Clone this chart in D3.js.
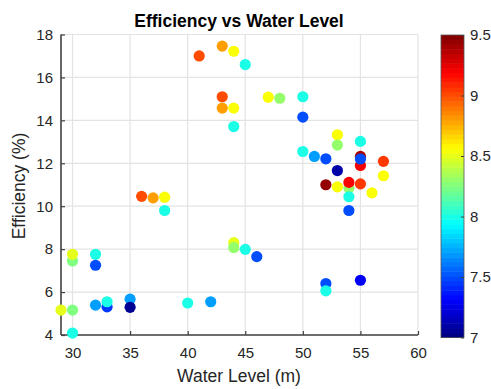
<!DOCTYPE html>
<html>
<head>
<meta charset="utf-8">
<script src="https://cdn.jsdelivr.net/npm/d3@7"></script>
<style>
  html, body { margin: 0; padding: 0; background: #fff; }
  svg { display: block; font-family: "Liberation Sans", Arial, sans-serif; }
</style>
</head>
<body>
<svg id="chart" width="491" height="389"></svg>
<script>
// Measurements: water level (m), efficiency (%), and the colour variable
const waterLevel = [29, 30, 30, 30, 30, 32, 32, 32, 33, 33, 35, 35,
  36, 37, 38, 38, 40, 42, 41, 43, 44, 45, 43, 43, 44, 44,
  44, 44, 45, 46, 47, 48, 50, 50, 50, 51, 52, 53, 53, 55,
  55, 55, 55, 57, 53, 52, 53, 54, 54, 55, 57, 56, 54, 54, 52, 52, 55];
const efficiency = [5.16, 7.45, 7.76, 5.16, 4.09, 7.76, 7.25, 5.39, 5.31, 5.55, 5.67, 5.29,
  10.46, 10.39, 10.42, 9.80, 5.49, 5.55, 17.0, 17.46, 17.22, 16.6, 15.1, 14.57, 14.57, 13.71,
  8.30, 8.07, 7.99, 7.65, 15.08, 15.03, 15.1, 14.15, 12.55, 12.32, 12.21, 13.33, 12.85, 13.02,
  11.90, 12.32, 12.20, 12.09, 11.66, 11.0, 10.9, 10.85, 11.11, 11.04, 11.42, 10.62, 10.44, 9.80, 6.40, 6.06, 6.55];
const colorValue = [8.5, 8.25, 8.5, 8.25, 8.0, 8.0, 7.5, 7.7, 7.45, 8.0, 7.7, 7.05,
  9.0, 8.8, 8.55, 8.0, 8.0, 7.7, 9.0, 8.8, 8.55, 8.0, 9.0, 8.8, 8.55, 8.0,
  8.5, 8.3, 8.0, 7.5, 8.55, 8.3, 8.0, 7.5, 8.0, 7.7, 7.5, 8.55, 8.3, 8.0,
  9.2, 9.4, 7.5, 9.05, 7.1, 9.45, 8.55, 8.3, 9.2, 9.05, 8.55, 8.55, 8.0, 7.5, 7.5, 8.0, 7.3];

const xTicks = [30, 35, 40, 45, 50, 55, 60];
const yTicks = [4, 6, 8, 10, 12, 14, 16, 18];
const cTicks = [7, 7.5, 8, 8.5, 9, 9.5];

const titleText = "Efficiency vs Water Level";
const xLabelText = "Water Level (m)";
const yLabelText = "Efficiency (%)";

// jet colormap
function jet(t) {
  const c = v => Math.max(0, Math.min(1, v));
  const r = c(1.5 - Math.abs(4 * t - 3));
  const g = c(1.5 - Math.abs(4 * t - 2));
  const b = c(1.5 - Math.abs(4 * t - 1));
  return d3.rgb(r * 255, g * 255, b * 255).formatHex();
}

const svg = d3.select("#chart");
const plot = { left: 61, right: 418, top: 34.5, bottom: 335 };

const x = d3.scaleLinear().domain([29, 60]).range([plot.left, plot.right]);
const y = d3.scaleLinear().domain([4, 18]).range([plot.bottom, plot.top]);
const cNorm = d3.scaleLinear().domain([7, 9.5]).range([0, 1]).clamp(true);
const color = v => jet(cNorm(v));

const textColor = "#262626";
const gridColor = "#e3e3e3";
const axisColor = "#404040";
const tickFont = "15px";
const labelFont = "17.5px";

// grid
const grid = svg.append("g");
grid.selectAll("line.gx").data(xTicks).join("line")
  .attr("x1", d => x(d)).attr("x2", d => x(d))
  .attr("y1", plot.top).attr("y2", plot.bottom)
  .attr("stroke", gridColor).attr("stroke-width", 1.2);
grid.selectAll("line.gy").data(yTicks).join("line")
  .attr("x1", plot.left).attr("x2", plot.right)
  .attr("y1", d => y(d)).attr("y2", d => y(d))
  .attr("stroke", gridColor).attr("stroke-width", 1.2);

// axes (ticks pointing inward)
const xAxis = d3.axisBottom(x).tickValues(xTicks).tickSize(-4).tickPadding(12).tickSizeOuter(0);
const yAxis = d3.axisLeft(y).tickValues(yTicks).tickSize(-4).tickPadding(8).tickSizeOuter(0);

const gx = svg.append("g").attr("transform", `translate(0,${plot.bottom})`).call(xAxis);
const gy = svg.append("g").attr("transform", `translate(${plot.left},0)`).call(yAxis);
[gx, gy].forEach(g => {
  g.select(".domain").attr("stroke", axisColor).attr("stroke-width", 1.6);
  g.selectAll(".tick line").attr("stroke", axisColor).attr("stroke-width", 1.2);
  g.selectAll(".tick text").attr("fill", textColor)
    .style("font-size", tickFont).style("font-family", "'Liberation Sans', Arial, sans-serif");
});
gx.select(".domain").attr("d", `M${plot.left},0H${plot.right}`);
gy.select(".domain").attr("d", `M0,${plot.bottom}V${plot.top}`);

// points
svg.append("g").selectAll("circle")
  .data(waterLevel.map((w, i) => ({ w, e: efficiency[i], c: colorValue[i] })))
  .join("circle")
  .attr("cx", d => x(d.w))
  .attr("cy", d => y(d.e))
  .attr("r", 5.6)
  .attr("fill", d => color(d.c));

// title and labels
svg.append("text").attr("x", 239).attr("y", 27).attr("text-anchor", "middle")
  .attr("fill", "#000").style("font-size", labelFont).style("font-weight", "bold")
  .text(titleText);
svg.append("text").attr("x", 239).attr("y", 382).attr("text-anchor", "middle")
  .attr("fill", textColor).style("font-size", labelFont).text(xLabelText);
svg.append("text").attr("transform", "translate(25,186) rotate(-90)").attr("text-anchor", "middle")
  .attr("fill", textColor).style("font-size", labelFont).text(yLabelText);

// colorbar
const cb = { left: 441, right: 464, top: 35, bottom: 337.5 };
const cy = d3.scaleLinear().domain([7, 9.5]).range([cb.bottom, cb.top]);
const nSteps = 64;
const steps = d3.range(nSteps);
svg.append("g").selectAll("rect").data(steps).join("rect")
  .attr("x", cb.left)
  .attr("width", cb.right - cb.left)
  .attr("y", i => cy(7 + (i + 1) * 2.5 / nSteps))
  .attr("height", i => cy(7 + i * 2.5 / nSteps) - cy(7 + (i + 1) * 2.5 / nSteps) + 0.5)
  .attr("fill", i => jet((i + 0.5) / nSteps));
svg.append("rect").attr("x", cb.left).attr("y", cb.top)
  .attr("width", cb.right - cb.left).attr("height", cb.bottom - cb.top)
  .attr("fill", "none").attr("stroke", "#555").attr("stroke-width", 0.8);

const cAxis = d3.axisRight(cy).tickValues(cTicks).tickFormat(d3.format("")).tickSize(-3).tickPadding(6).tickSizeOuter(0);
const gc = svg.append("g").attr("transform", `translate(${cb.right},0)`).call(cAxis);
gc.select(".domain").remove();
gc.selectAll(".tick line").attr("stroke", axisColor);
gc.selectAll(".tick text").attr("fill", textColor)
  .style("font-size", tickFont).style("font-family", "'Liberation Sans', Arial, sans-serif");
</script>
</body>
</html>
